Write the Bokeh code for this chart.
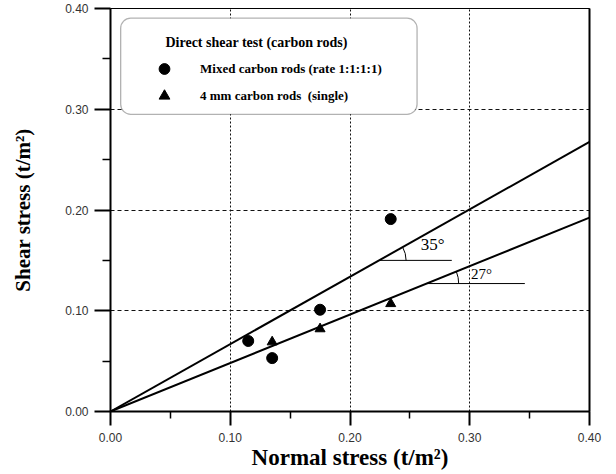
import math
from bokeh.plotting import figure
from bokeh.models import (Range1d, FixedTicker, NumeralTickFormatter, LinearAxis,
                          Legend, LegendItem, BoxAnnotation, Label)
from bokeh.embed import file_html
from bokeh.resources import INLINE

# ---------------- data ----------------
x_ticks = [0.0, 0.1, 0.2, 0.3, 0.4]
x_minor_ticks = [0.05, 0.15, 0.25, 0.35]
y_ticks = [0.0, 0.1, 0.2, 0.3, 0.4]
y_minor_ticks = [0.05, 0.15, 0.25, 0.35]

mixed_x = [0.115, 0.135, 0.175, 0.234]
mixed_y = [0.070, 0.053, 0.101, 0.191]
single_x = [0.135, 0.175, 0.234]
single_y = [0.069, 0.082, 0.107]

fit_x = [0.0, 0.40]
mixed_fit_y = [0.0, 0.2675]
single_fit_y = [0.0, 0.1924]

mixed_angle_label = "35°"
single_angle_label = "27°"
mixed_angle_level = 0.150     # y of the horizontal reference line
single_angle_level = 0.127
mixed_ref_end = 0.285         # x where the horizontal reference line ends
single_ref_end = 0.346

legend_title = "Direct shear test (carbon rods)"
mixed_label = "Mixed carbon rods (rate 1:1:1:1)"
single_label = "4 mm carbon rods  (single)"

# ---------------- figure ----------------
W, H = 616, 474
BL, BR, BT, BB = 110, 27, 8, 63
p = figure(width=W, height=H, output_backend="svg", toolbar_location=None,
           x_range=Range1d(0, 0.4), y_range=Range1d(0, 0.4),
           min_border_left=BL, min_border_right=BR, min_border_top=BT,
           min_border_bottom=BB, background_fill_color="white",
           border_fill_color="white")
p.outline_line_color = "black"
p.outline_line_width = 1

xt = FixedTicker(ticks=x_ticks, minor_ticks=x_minor_ticks)
yt = FixedTicker(ticks=y_ticks, minor_ticks=y_minor_ticks)
p.xaxis.ticker = xt
p.yaxis.ticker = yt
p.xgrid.ticker = xt
p.ygrid.ticker = yt
p.xgrid.grid_line_color = "#111111"
p.xgrid.grid_line_dash = "2 2"
p.xgrid.grid_line_width = 1
p.ygrid.grid_line_color = "#111111"
p.ygrid.grid_line_dash = "4 3"
p.ygrid.grid_line_width = 1

for ax in (p.xaxis[0], p.yaxis[0]):
    ax.formatter = NumeralTickFormatter(format="0.00")
    ax.axis_line_width = 2
    ax.axis_line_color = "black"
    ax.major_tick_line_width = 2
    ax.minor_tick_line_width = 1.5
    ax.major_tick_in = 0
    ax.minor_tick_in = 0
    ax.major_label_text_font = "Liberation Sans"
    ax.major_label_text_font_size = "12px"
    ax.major_label_text_color = "#333333"
    ax.axis_label_text_font = "Liberation Serif"
    ax.axis_label_text_font_style = "bold"
    ax.axis_label_text_color = "black"

p.xaxis.axis_label = "Normal stress (t/m²)"
p.xaxis.axis_label_text_font_size = "23px"
p.xaxis.major_tick_out = 14
p.xaxis.minor_tick_out = 7
p.xaxis.major_label_standoff = 7
p.xaxis.axis_label_standoff = 0

p.yaxis.axis_label = "Shear stress (t/m²)"
p.yaxis.axis_label_text_font_size = "21px"
p.yaxis.major_tick_out = 16
p.yaxis.minor_tick_out = 8
p.yaxis.major_label_standoff = 6
p.yaxis.axis_label_standoff = 27

right_axis = LinearAxis(ticker=FixedTicker(ticks=[]), axis_line_width=2,
                        axis_line_color="black")
p.add_layout(right_axis, "right")

# ---------------- fit lines and points ----------------
p.line(fit_x, mixed_fit_y, line_color="black", line_width=2)
p.line(fit_x, single_fit_y, line_color="black", line_width=2)

r_mixed = p.scatter(mixed_x, mixed_y, marker="circle", size=11,
                    fill_color="black", line_color="black")
r_single = p.scatter(single_x, single_y, marker="triangle", size=10,
                     fill_color="black", line_color="black")

# ---------------- angle annotations ----------------
frame_w = W - BL - BR
frame_h = H - BT - BB
px_x = frame_w / 0.4
px_y = frame_h / 0.4

for fy, level, end, radius, label, lx, ly, fs in [
    (mixed_fit_y, mixed_angle_level, mixed_ref_end, 27, mixed_angle_label, 0.259, 0.166, "17px"),
    (single_fit_y, single_angle_level, single_ref_end, 32, single_angle_label, 0.301, 0.136, "15px"),
]:
    slope = (fy[1] - fy[0]) / (fit_x[1] - fit_x[0])
    x0 = level / slope
    p.line([x0, end], [level, level], line_color="black", line_width=1)
    theta = math.atan(slope * px_y / px_x)
    p.arc(x=[x0], y=[level], radius=radius, radius_units="screen",
          start_angle=0, end_angle=theta, line_color="black", line_width=1)
    p.add_layout(Label(x=lx, y=ly, text=label, text_font="Liberation Serif",
                       text_font_size=fs, text_baseline="middle",
                       text_color="black"))

# ---------------- legend ----------------
box = BoxAnnotation(left=0.0085, right=0.256, top=0.3904, bottom=0.295,
                    fill_color="white", fill_alpha=1.0,
                    line_color="black", line_width=1.3)
try:
    box.border_radius = 10
except Exception:
    pass
p.add_layout(box)

legend = Legend(items=[LegendItem(label=mixed_label, renderers=[r_mixed]),
                       LegendItem(label=single_label, renderers=[r_single])],
                location=(37, 302), margin=0, padding=0,
                glyph_width=34, glyph_height=27, spacing=0,
                label_standoff=19, label_text_font="Liberation Serif",
                label_text_font_style="bold", label_text_font_size="13px",
                label_text_color="black",
                background_fill_alpha=0, border_line_color=None)
p.add_layout(legend)

p.add_layout(Label(x=0.0459, y=0.3663, text=legend_title,
                   text_font="Liberation Serif", text_font_style="bold",
                   text_font_size="14px", text_baseline="middle",
                   text_color="black"))

open("out.html", "w").write(file_html(p, INLINE))
